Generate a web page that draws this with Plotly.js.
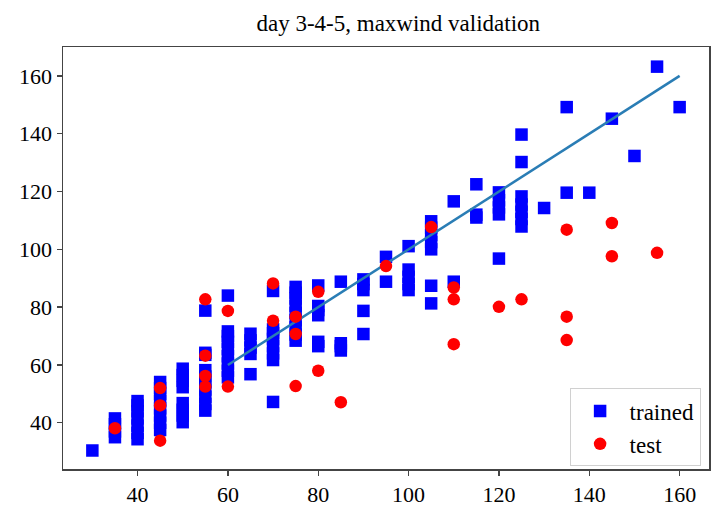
<!DOCTYPE html>
<html>
<head>
<meta charset="utf-8">
<script src="https://cdn.plot.ly/plotly-3.0.1.min.js"></script>
<style>html,body{margin:0;padding:0;background:#fff;}#chart{width:715px;height:510px;}</style>
</head>
<body>
<div id="chart"></div>
<script>
// trained (blue squares): actual maxwind vs predicted
const trainedX = [30,
  35,35,35,35,
  40,40,40,40,40,40,40,
  45,45,45,45,45,45,45,45,
  50,50,50,50,50,50,50,50,
  55,55,55,55,55,55,55,55,55,55,
  60,60,60,60,60,60,60,60,60,
  65,65,65,65,65,
  70,70,70,70,70,70,70,70,
  75,75,75,75,75,75,75,75,75,
  80,80,80,80,80,80,
  85,85,85,85,
  90,90,90,90,90,
  95,95,
  100,100,100,100,100,
  105,105,105,105,105,105,105,
  110,110,
  115,115,115,
  120,120,120,120,120,
  125,125,125,125,125,125,125,
  130,
  135,135,
  140,
  145,
  150,
  155,
  160];
const trainedY = [30.4,
  35,37,39.5,41.5,
  34.3,36.5,39,41.5,44,46,47.5,
  37.5,40,42.5,45,47.5,50,52,54.1,
  40.2,42.5,44.5,46.8,52.3,54.5,56.5,58.7,
  44.2,46.5,49,51.5,54,56,58.2,63.5,64.2,78.8,
  55.7,58,60.5,63,65.5,68,70,71.6,84,
  56.8,63.8,66,68.5,70.8,
  47.2,61.7,64,66.5,69,71,72.3,85.6,
  68.4,70.5,73,75.5,78,80.5,83,85,87,
  66.5,68,77.2,79,80.4,87.5,
  65,66.5,67.5,88.8,
  70.7,78.7,85.9,88,89.6,
  88.8,97.4,
  85.9,88,90.5,93,101.1,
  81.3,87.4,100,102.5,105,107.5,109.7,
  88.8,116.6,
  111,112,122.5,
  96.8,112.1,114.5,117,119.7,
  107.9,110.5,113,115.5,118.3,130.2,139.7,
  114.3,
  119.6,149.2,
  119.6,
  145.2,
  132.3,
  163.2,
  149.2];
// test (red circles)
const testX = [35, 45,45,45, 55,55,55,55, 60,60, 70,70, 75,75,75, 80,80, 85, 95, 105,
  110,110,110, 120, 125, 135,135,135, 145,145, 155];
const testY = [38.1, 52,46,33.8, 82.7,63.2,56.2,52.5, 78.7,52.5, 88.2,75.3, 76.7,70.7,52.7, 85.3,58.0, 47.1, 94.2, 107.7,
  86.8,82.7,67.2, 80.1, 82.7, 106.8,76.7,68.6, 109.1,97.6, 98.8];
// fitted identity line
const fitX = [60, 160];
const fitY = [60, 160];
const tickVals = [40, 60, 80, 100, 120, 140, 160];

const serif = '"Liberation Serif", "Times New Roman", serif';

const traces = [
  {x: trainedX, y: trainedY, type: 'scatter', mode: 'markers', name: 'trained',
   marker: {symbol: 'square', size: 12.5, color: '#0000ff', line: {width: 0}}},
  {x: fitX, y: fitY, type: 'scatter', mode: 'lines', showlegend: false,
   line: {color: '#2a7db5', width: 2.5}},
  {x: testX, y: testY, type: 'scatter', mode: 'markers', name: 'test',
   marker: {symbol: 'circle', size: 12.5, color: '#ff0000', line: {width: 0}}}
];

const axisCommon = {
  showgrid: false, zeroline: false, showline: true, mirror: true,
  linecolor: '#444', linewidth: 1.5,
  ticks: 'outside', ticklen: 5, tickwidth: 1.3, tickcolor: '#444',
  tickvals: tickVals, ticktext: tickVals.map(String),
  tickfont: {family: serif, size: 22, color: '#000'}
};

const layout = {
  width: 715, height: 510,
  paper_bgcolor: '#fff', plot_bgcolor: '#fff',
  margin: {l: 63, r: 6, t: 47, b: 41},
  title: {text: 'day 3-4-5, maxwind validation', font: {family: serif, size: 23, color: '#000'},
          x: 0.519, xref: 'paper', xanchor: 'center', y: 0.955, yref: 'container', yanchor: 'middle'},
  xaxis: Object.assign({}, axisCommon, {range: [23.5, 166.5]}),
  yaxis: Object.assign({}, axisCommon, {range: [24, 170]}),
  showlegend: true,
  legend: {x: 0.987, y: 0.006, xanchor: 'right', yanchor: 'bottom',
           bgcolor: 'rgba(255,255,255,0.8)', bordercolor: '#d0d0d0', borderwidth: 1,
           font: {family: serif, size: 23, color: '#000'}, itemwidth: 49,
           traceorder: 'normal'}
};

Plotly.newPlot('chart', traces, layout, {displayModeBar: false, staticPlot: true});
</script>
</body>
</html>
